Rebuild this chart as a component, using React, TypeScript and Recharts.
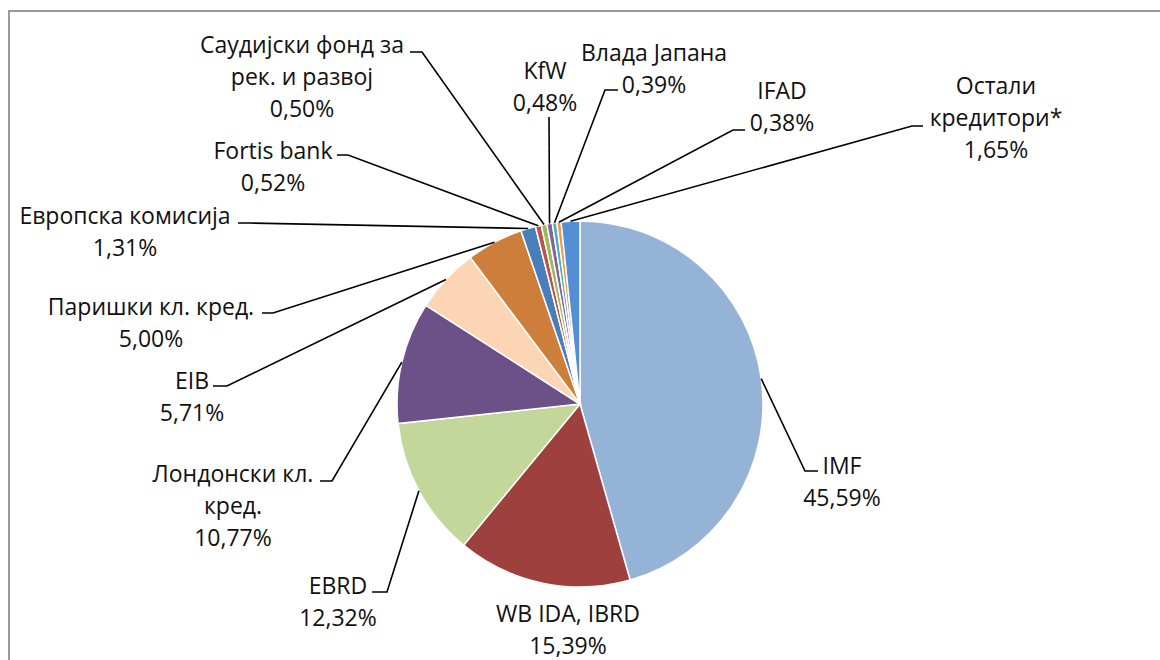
import React from 'react';
import { PieChart, Pie, Cell } from 'recharts';

const creditors = [
  'IMF',
  'WB IDA, IBRD',
  'EBRD',
  'Лондонски кл.\nкред.',
  'EIB',
  'Паришки кл. кред.',
  'Европска комисија',
  'Fortis bank',
  'Саудијски фонд за\nрек. и развој',
  'KfW',
  'Влада Јапана',
  'IFAD',
  'Остали\nкредитори*',
];
const shares = [45.59, 15.39, 12.32, 10.77, 5.71, 5.0, 1.31, 0.52, 0.5, 0.48, 0.39, 0.38, 1.65];

const sliceColors = [
  '#95B3D7', '#9E413E', '#C4D79B', '#6B5187', '#FCD5B5', '#CD7E3A',
  '#4A7EBB', '#C0504D', '#9BBB59', '#8064A2', '#4BACC6', '#F79646', '#558ED5',
];

// where each label sits: text centre x, first line y, leader elbow (ex, ey), leader end x (hx)
const labelLayout = [
  { tx: 842, ty: 465, ex: 805, ey: 471, hx: 818 },
  { tx: 568, ty: 613 },
  { tx: 338, ty: 585, ex: 387, ey: 592, hx: 372 },
  { tx: 233, ty: 473, ex: 332, ey: 481, hx: 320 },
  { tx: 192, ty: 380, ex: 227, ey: 386, hx: 213 },
  { tx: 151, ty: 306, ex: 273, ey: 313, hx: 262 },
  { tx: 125, ty: 215, ex: 250, ey: 223, hx: 238 },
  { tx: 273, ty: 150, ex: 348, ey: 155, hx: 337 },
  { tx: 302, ty: 44, ex: 422, ey: 52, hx: 410 },
  { tx: 545, ty: 70, ex: 549, ey: 117, hx: 549 },
  { tx: 654, ty: 52, ex: 605, ey: 90, hx: 618 },
  { tx: 782, ty: 90, ex: 733, ey: 130, hx: 745 },
  { tx: 996, ty: 85, ex: 912, ey: 126, hx: 923 },
];

const data = creditors.map((name, i) => ({ name, value: shares[i] }));

const RADIAN = Math.PI / 180;
const LINE_H = 32;
const fmt = (v: number) => v.toFixed(2).replace('.', ',') + '%';

const renderLabel = (props: any) => {
  const { cx, cy, midAngle, outerRadius, index } = props;
  const pos = labelLayout[index];
  const lines = [...creditors[index].split('\n'), fmt(shares[index])];
  const sx = cx + outerRadius * Math.cos(-midAngle * RADIAN);
  const sy = cy + outerRadius * Math.sin(-midAngle * RADIAN);
  return (
    <g key={`lbl-${index}`}>
      {pos.ex !== undefined && (
        <polyline
          points={`${sx},${sy} ${pos.ex},${pos.ey} ${pos.hx},${pos.ey}`}
          fill="none"
          stroke="#000"
          strokeWidth={1.6}
        />
      )}
      {lines.map((t, j) => (
        <text
          key={j}
          x={pos.tx}
          y={pos.ty + j * LINE_H}
          textAnchor="middle"
          dominantBaseline="central"
          fill="#111"
          fontSize={23}
          fontFamily="'Open Sans', sans-serif"
        >
          {t}
        </text>
      ))}
    </g>
  );
};

export default function App() {
  return (
    <div style={{ position: 'absolute', left: 0, top: 0, width: 1160, height: 660, background: '#fff', overflow: 'hidden' }}>
      <div
        style={{
          position: 'absolute',
          left: 8,
          top: 10,
          width: 1200,
          height: 700,
          borderTop: '2px solid #9a9a9a',
          borderLeft: '2px solid #9a9a9a',
        }}
      />
      <div style={{ position: 'absolute', left: 0, top: 0 }}>
        <PieChart width={1160} height={660} margin={{ top: 0, right: 0, bottom: 0, left: 0 }}>
          <Pie
            data={data}
            dataKey="value"
            nameKey="name"
            cx={580}
            cy={404}
            outerRadius={183}
            startAngle={90}
            endAngle={-270}
            stroke="#fff"
            strokeWidth={1.5}
            label={renderLabel}
            labelLine={false}
            isAnimationActive={false}
          >
            {data.map((d, i) => (
              <Cell key={d.name} fill={sliceColors[i]} />
            ))}
          </Pie>
        </PieChart>
      </div>
    </div>
  );
}
